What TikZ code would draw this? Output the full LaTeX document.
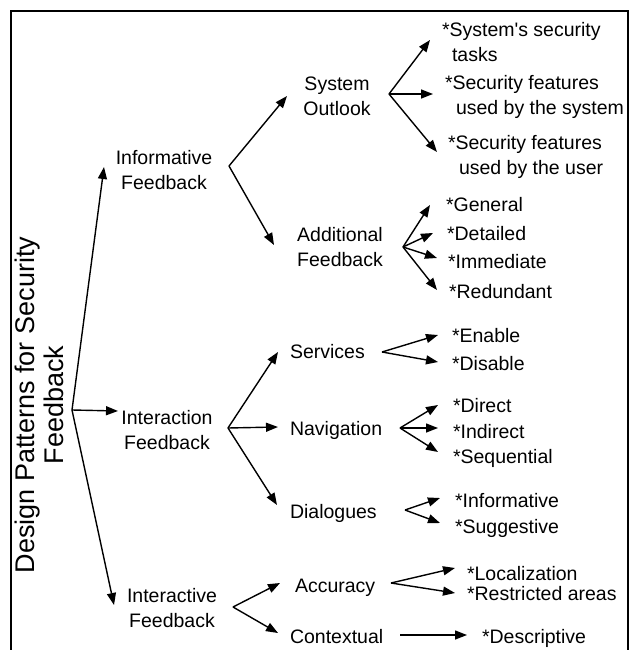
\documentclass[tikz,border=0pt]{standalone}
\usepackage{fontspec}
\setmainfont{Liberation Sans}
\usetikzlibrary{arrows.meta}
\tikzset{
  lab/.style={inner sep=0pt, outer sep=0pt, font=\fontsize{19.5}{25}\selectfont},
  mid/.style={lab, align=center, anchor=north},
  leaf/.style={lab, anchor=base west},
  leaf2/.style={lab, align=left, anchor=north west},
  arr/.style={draw=black, line width=1.4pt, -{Triangle[length=12pt,width=9pt]}},
  frame/.style={draw=black, line width=1.6pt}
}
\begin{document}
\begin{tikzpicture}[x=1pt,y=-1pt]
\useasboundingbox (0,0) rectangle (635,650);
% frame
\coordinate (f1) at (11,652);
\coordinate (f2) at (11,11);
\coordinate (f3) at (628,11);
\coordinate (f4) at (628,652);
\draw[frame] (f1) -- (f2) -- (f3) -- (f4);

% root
\node[inner sep=0pt, rotate=90, align=center, font=\fontsize{27}{29}\selectfont] (root) at (39,405) {Design Patterns for Security\\Feedback};

% level 1
\node[mid] (inf) at (164,150) {Informative\\Feedback};
\node[mid] (ixf) at (167,410) {Interaction\\Feedback};
\node[mid] (ivf) at (172,588) {Interactive\\Feedback};

% level 2
\node[mid] (so) at (337,77) {System\\Outlook};
\node[mid] (af) at (340,227) {Additional\\Feedback};
\node[leaf] (svc) at (290,358) {Services};
\node[leaf] (nav) at (290,435) {Navigation};
\node[leaf] (dlg) at (290,518) {Dialogues};
\node[leaf] (acc) at (295,592) {Accuracy};
\node[leaf] (ctx) at (290,643) {Contextual};

% leaves
\node[leaf2] (l1) at (442,22) {*System\textquotesingle s security\\\hspace*{10pt}tasks};
\node[leaf2] (l2) at (445,75) {*Security features\\\hspace*{11pt}used by the system};
\node[leaf2] (l3) at (448,135) {*Security features\\\hspace*{11pt}used by the user};
\node[leaf] (l4) at (446,211) {*General};
\node[leaf] (l5) at (447,240) {*Detailed};
\node[leaf] (l6) at (448,268) {*Immediate};
\node[leaf] (l7) at (449,298) {*Redundant};
\node[leaf] (l8) at (452,342) {*Enable};
\node[leaf] (l9) at (452,370) {*Disable};
\node[leaf] (l10) at (453,412) {*Direct};
\node[leaf] (l11) at (453,438) {*Indirect};
\node[leaf] (l12) at (453,463) {*Sequential};
\node[leaf] (l13) at (455,507) {*Informative};
\node[leaf] (l14) at (455,533) {*Suggestive};
\node[leaf] (l15) at (467,580) {*Localization};
\node[leaf] (l16) at (467,600) {*Restricted areas};
\node[leaf] (l17) at (482,643) {*Descriptive};

% fork apexes
\coordinate (aR) at (72,410);
\coordinate (aInf) at (229,166);
\coordinate (aSo) at (389,94);
\coordinate (aAf) at (403,247);
\coordinate (aIx) at (228,428);
\coordinate (aSvc) at (382,352);
\coordinate (aNav) at (400,428);
\coordinate (aDlg) at (405,510);
\coordinate (aIv) at (233,607);
\coordinate (aAcc) at (391,583);
\coordinate (aCtx) at (400,635);

% tips
\coordinate (tInf) at (104,167);
\coordinate (tIx) at (118,411);
\coordinate (tIv) at (114,605);
\coordinate (tSo) at (287,96);
\coordinate (tAf) at (274,245);
\coordinate (tL1) at (430,40);
\coordinate (tL2) at (433,94);
\coordinate (tL3) at (437,152);
\coordinate (tL4) at (430,205);
\coordinate (tL5) at (433,233);
\coordinate (tL6) at (437,258);
\coordinate (tL7) at (437,290);
\coordinate (tSvc) at (278,352);
\coordinate (tNav) at (278,427);
\coordinate (tDlg) at (277,505);
\coordinate (tL8) at (438,335);
\coordinate (tL9) at (438,362);
\coordinate (tL10) at (438,405);
\coordinate (tL11) at (438,428);
\coordinate (tL12) at (438,452);
\coordinate (tL13) at (440,498);
\coordinate (tL14) at (440,523);
\coordinate (tAcc) at (280,583);
\coordinate (tCtx) at (278,633);
\coordinate (tL15) at (455,568);
\coordinate (tL16) at (455,593);
\coordinate (tL17) at (467,635);

% connectors
\draw[arr] (aR) -- (tInf);
\draw[arr] (aR) -- (tIx);
\draw[arr] (aR) -- (tIv);
\draw[arr] (aInf) -- (tSo);
\draw[arr] (aInf) -- (tAf);
\draw[arr] (aSo) -- (tL1);
\draw[arr] (aSo) -- (tL2);
\draw[arr] (aSo) -- (tL3);
\draw[arr] (aAf) -- (tL4);
\draw[arr] (aAf) -- (tL5);
\draw[arr] (aAf) -- (tL6);
\draw[arr] (aAf) -- (tL7);
\draw[arr] (aIx) -- (tSvc);
\draw[arr] (aIx) -- (tNav);
\draw[arr] (aIx) -- (tDlg);
\draw[arr] (aSvc) -- (tL8);
\draw[arr] (aSvc) -- (tL9);
\draw[arr] (aNav) -- (tL10);
\draw[arr] (aNav) -- (tL11);
\draw[arr] (aNav) -- (tL12);
\draw[arr] (aDlg) -- (tL13);
\draw[arr] (aDlg) -- (tL14);
\draw[arr] (aIv) -- (tAcc);
\draw[arr] (aIv) -- (tCtx);
\draw[arr] (aAcc) -- (tL15);
\draw[arr] (aAcc) -- (tL16);
\draw[arr] (aCtx) -- (tL17);
\end{tikzpicture}
\end{document}
